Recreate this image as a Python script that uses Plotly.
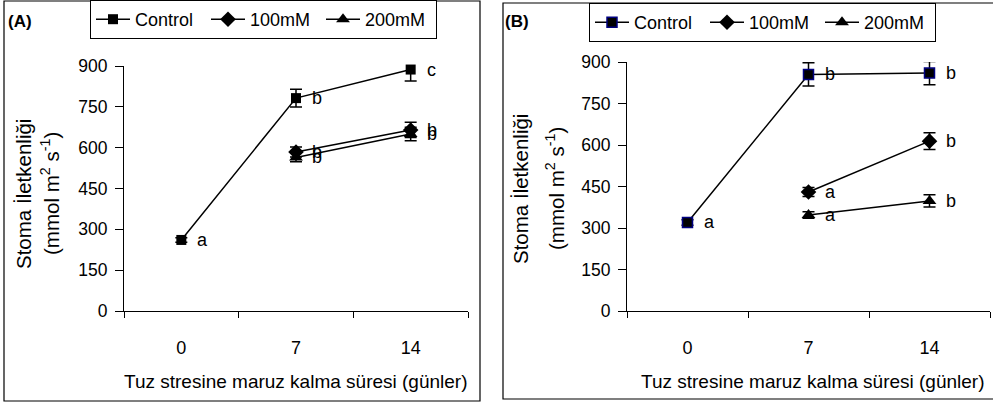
import plotly.graph_objects as go

W, H = 993, 403

days = ["0", "7", "14"]
ytick_vals = [0, 150, 300, 450, 600, 750, 900]

# Panel A
a_control = [261, 782, 887]
a_control_err = [8, 33, 42]
a_100 = [584, 665]
a_100_err = [18, 28]
a_200 = [564, 650]
a_200_err = [16, 25]
a_control_lbl = ["a", "b", "c"]
a_100_lbl = ["b", "b"]
a_200_lbl = ["b", "b"]

# Panel B
b_control = [320, 855, 860]
b_control_err = [10, 42, 42]
b_100 = [430, 614]
b_100_err = [16, 30]
b_200 = [347, 398]
b_200_err = [12, 22]
b_control_lbl = ["a", "b", "b"]
b_100_lbl = ["a", "b"]
b_200_lbl = ["a", "b"]

series_names = ["Control", "100mM", "200mM"]

FONT = "Liberation Sans, Arial, sans-serif"


def px_x(p):
    return p / W


def px_y(p):
    return 1 - p / H


fig = go.Figure()


def add_series(xs, ys, err, name, symbol, size, xa, ya, legend, line_color=None):
    marker = dict(symbol=symbol, size=size, color="black")
    if line_color:
        marker["line"] = dict(color=line_color, width=1.5)
    else:
        marker["line"] = dict(width=0)
    fig.add_trace(go.Scatter(
        x=xs, y=ys, name=name, mode="lines+markers",
        line=dict(color="black", width=1.5),
        marker=marker,
        error_y=dict(type="data", array=err, visible=True, color="black", thickness=1.5, width=6),
        xaxis=xa, yaxis=ya, legend=legend, cliponaxis=False,
    ))


add_series(days, a_control, a_control_err, series_names[0], "square", 10, "x", "y", "legend")
add_series(days[1:], a_100, a_100_err, series_names[1], "diamond", 12, "x", "y", "legend")
add_series(days[1:], a_200, a_200_err, series_names[2], "triangle-up", 12, "x", "y", "legend")

add_series(days, b_control, b_control_err, series_names[0], "square", 10, "x2", "y2", "legend2", line_color="#000080")
add_series(days[1:], b_100, b_100_err, series_names[1], "diamond", 12, "x2", "y2", "legend2")
add_series(days[1:], b_200, b_200_err, series_names[2], "triangle-up", 12, "x2", "y2", "legend2")

annotations = []


def add_letters(xs, ys, lbls, xr, yr):
    for xv, yv, t in zip(xs, ys, lbls):
        annotations.append(dict(
            x=days.index(xv), y=yv, xref=xr, yref=yr, text=t, showarrow=False,
            xanchor="left", yanchor="middle", xshift=14,
            font=dict(family=FONT, size=18, color="black"),
        ))


add_letters(days, a_control, a_control_lbl, "x", "y")
add_letters(days[1:], a_100, a_100_lbl, "x", "y")
add_letters(days[1:], a_200, a_200_lbl, "x", "y")
add_letters(days, b_control, b_control_lbl, "x2", "y2")
add_letters(days[1:], b_100, b_100_lbl, "x2", "y2")
add_letters(days[1:], b_200, b_200_lbl, "x2", "y2")

# Panel labels
annotations.append(dict(x=px_x(6), y=px_y(22), xref="paper", yref="paper", text="<b>(A)</b>",
                        showarrow=False, xanchor="left", yanchor="middle",
                        font=dict(family=FONT, size=17, color="black")))
annotations.append(dict(x=px_x(503), y=px_y(22), xref="paper", yref="paper", text="<b>(B)</b>",
                        showarrow=False, xanchor="left", yanchor="middle",
                        font=dict(family=FONT, size=17, color="black")))

# Axis titles
xtitle = "Tuz stresine maruz kalma süresi (günler)"
for cx in (296, 813):
    annotations.append(dict(x=px_x(cx), y=px_y(381), xref="paper", yref="paper", text=xtitle,
                            showarrow=False, xanchor="center", yanchor="middle",
                            font=dict(family=FONT, size=19, color="black")))
for cx1, cx2, cy in ((23, 50, 194), (520, 555, 189)):
    annotations.append(dict(x=px_x(cx1), y=px_y(cy), xref="paper", yref="paper",
                            text="Stoma İletkenliği", textangle=-90, showarrow=False,
                            xanchor="center", yanchor="middle",
                            font=dict(family=FONT, size=20.5, color="black")))
    annotations.append(dict(x=px_x(cx2), y=px_y(cy), xref="paper", yref="paper",
                            text="(mmol m<sup>2</sup> s<sup>-1</sup>)", textangle=-90, showarrow=False,
                            xanchor="center", yanchor="middle",
                            font=dict(family=FONT, size=20.5, color="black")))

shapes = [
    dict(type="rect", xref="paper", yref="paper", x0=px_x(4), x1=px_x(480), y0=px_y(401), y1=px_y(1),
         line=dict(color="black", width=1.2), fillcolor="rgba(0,0,0,0)"),
    dict(type="rect", xref="paper", yref="paper", x0=px_x(503), x1=px_x(998), y0=px_y(399), y1=px_y(3),
         line=dict(color="black", width=1.2), fillcolor="rgba(0,0,0,0)"),
]

xaxis_common = dict(type="category", categoryorder="array", categoryarray=days,
                    tickson="boundaries", ticks="outside", ticklen=6, tickcolor="black",
                    showline=True, linecolor="black", linewidth=1, showgrid=False, zeroline=False,
                    tickfont=dict(family=FONT, size=18, color="black"), ticklabelstandoff=20,
                    range=[-0.5, 2.5], fixedrange=True)
yaxis_common = dict(range=[0, 900], tickvals=ytick_vals, ticks="outside", ticklen=8, tickcolor="black",
                    showline=True, linecolor="black", linewidth=1, showgrid=False, zeroline=False,
                    tickfont=dict(family=FONT, size=17.5, color="black"), ticklabelstandoff=4,
                    fixedrange=True)

legend_common = dict(orientation="h", xanchor="left", yanchor="top", bordercolor="black", borderwidth=1,
                     bgcolor="white", font=dict(family=FONT, size=18, color="black"),
                     itemwidth=34, entrywidth=66, entrywidthmode="pixels",
                     tracegroupgap=0, itemclick=False, itemdoubleclick=False)

fig.update_layout(
    width=W, height=H, margin=dict(l=0, r=0, t=0, b=0, autoexpand=False),
    paper_bgcolor="white", plot_bgcolor="white",
    font=dict(family=FONT, color="black"),
    xaxis=dict(domain=[px_x(124), px_x(468)], anchor="y", **xaxis_common),
    yaxis=dict(domain=[px_y(311), px_y(66)], anchor="x", **yaxis_common),
    xaxis2=dict(domain=[px_x(627), px_x(990)], anchor="y2", **xaxis_common),
    yaxis2=dict(domain=[px_y(311), px_y(62)], anchor="x2", **yaxis_common),
    legend=dict(x=px_x(90), y=px_y(0), **legend_common),
    legend2=dict(x=px_x(589), y=px_y(3), **legend_common),
    annotations=annotations,
    shapes=shapes,
)

fig.write_html("out.html")
